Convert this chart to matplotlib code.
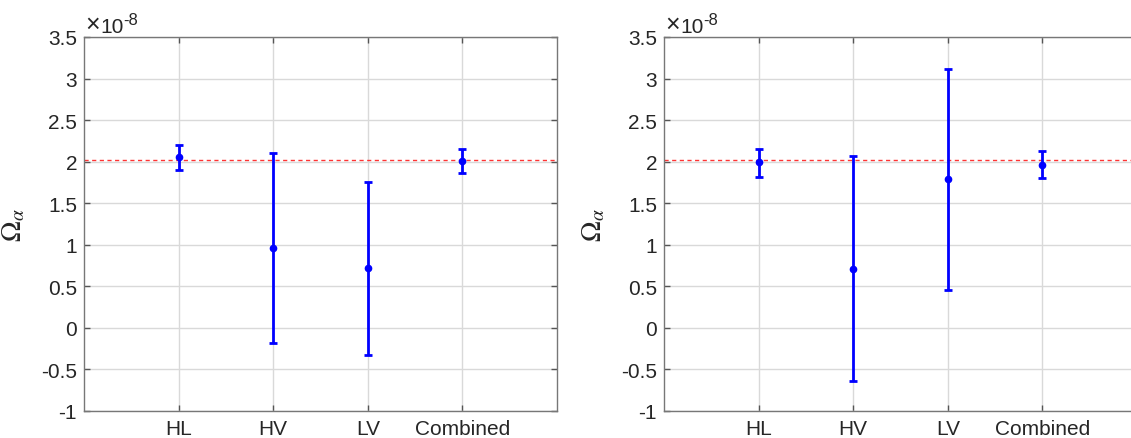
import matplotlib
matplotlib.use('Agg')
import matplotlib.pyplot as plt
from matplotlib.ticker import FuncFormatter, FixedLocator

plt.rcParams['font.family'] = ['Liberation Sans', 'DejaVu Sans']
plt.rcParams['mathtext.fontset'] = 'stix'

SCALE = 1e-8

detectors = ['HL', 'HV', 'LV', 'Combined']
true_omega = 2.02

# estimates and error bar ends (units of 1e-8)
left_mid = [2.06, 0.96, 0.72, 2.01]
left_low = [1.90, -0.18, -0.33, 1.86]
left_high = [2.20, 2.10, 1.76, 2.15]

right_mid = [1.99, 0.71, 1.79, 1.96]
right_low = [1.82, -0.635, 0.46, 1.80]
right_high = [2.15, 2.07, 3.12, 2.13]

yticks = [-1, -0.5, 0, 0.5, 1, 1.5, 2, 2.5, 3, 3.5]


def fmt(v, pos):
    return '%g' % round(v / SCALE, 6)


def draw_panel(ax, mid, low, high):
    x = list(range(1, len(detectors) + 1))
    mids = [m * SCALE for m in mid]
    err_lo = [(m - l) * SCALE for m, l in zip(mid, low)]
    err_hi = [(h - m) * SCALE for m, h in zip(mid, high)]
    ax.errorbar(x, mids, yerr=[err_lo, err_hi], fmt='o', color='#0000ff',
                ms=4.5, elinewidth=2, capsize=3, capthick=2, zorder=3)
    ax.axhline(true_omega * SCALE, color='#ff3333', lw=1, ls=(0, (3, 2.5)), zorder=2)

    ax.set_xlim(0, 5)
    ax.set_ylim(yticks[0] * SCALE, yticks[-1] * SCALE)
    ax.set_xticks(x)
    ax.set_xticklabels(detectors)
    ax.yaxis.set_major_locator(FixedLocator([t * SCALE for t in yticks]))
    ax.yaxis.set_major_formatter(FuncFormatter(fmt))
    ax.grid(True, color='#d9d9d9', lw=1)
    ax.set_axisbelow(True)
    ax.tick_params(direction='in', length=4, width=1, top=True, right=True,
                   labelsize=15, colors='#262626', color='#555555')
    ax.tick_params(axis='x', pad=6)
    ax.tick_params(axis='y', pad=5)
    for s in ax.spines.values():
        s.set_color('#777777')
        s.set_linewidth(1)
    ax.set_ylabel(r'$\Omega_\alpha$', fontsize=20, color='#262626', labelpad=10)
    # exponent label above the y axis
    ax.annotate('\u00d7', xy=(0, 1), xycoords='axes fraction', xytext=(1, 1),
                textcoords='offset points', fontsize=18, color='#262626',
                ha='left', va='bottom')
    ax.annotate('10', xy=(0, 1), xycoords='axes fraction', xytext=(12, 1),
                textcoords='offset points', fontsize=15, color='#262626',
                ha='left', va='bottom')
    ax.annotate('-8', xy=(0, 1), xycoords='axes fraction', xytext=(28, 7),
                textcoords='offset points', fontsize=12, color='#262626',
                ha='left', va='bottom')


fig = plt.figure(figsize=(11.31, 4.39), dpi=100)
W, H = 1131, 439
ax1 = fig.add_axes([84 / W, 27 / H, 473 / W, 374 / H])
ax2 = fig.add_axes([664 / W, 27 / H, 473 / W, 374 / H])

draw_panel(ax1, left_mid, left_low, left_high)
draw_panel(ax2, right_mid, right_low, right_high)

fig.savefig('out.png', dpi=100, facecolor='white')
